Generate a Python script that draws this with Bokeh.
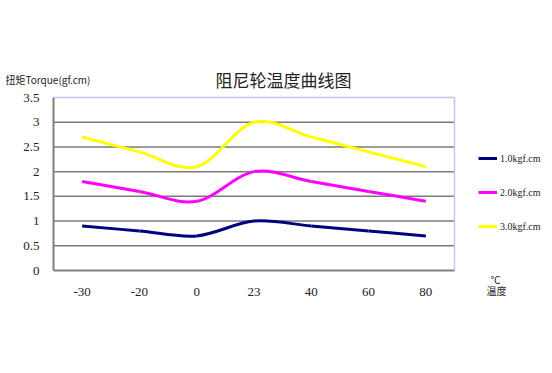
from bokeh.plotting import figure
from bokeh.models import Range1d, FixedTicker, Label, Legend, LegendItem
from bokeh.embed import file_html
from bokeh.resources import INLINE

categories = ["-30", "-20", "0", "23", "40", "60", "80"]
s1 = [0.9, 0.8, 0.7, 1.0, 0.9, 0.8, 0.7]
s2 = [1.8, 1.6, 1.4, 2.0, 1.8, 1.6, 1.4]
s3 = [2.7, 2.4, 2.1, 3.0, 2.7, 2.4, 2.1]
names = ["1.0kgf.cm", "2.0kgf.cm", "3.0kgf.cm"]
colors = ["#000080", "#FF00FF", "#FFFF00"]
y_ticks = [0, 0.5, 1, 1.5, 2, 2.5, 3, 3.5]
title_text = "阻尼轮温度曲线图"
y_title = "扭矩Torque(gf.cm)"
x_title = ["℃", "温度"]

W, H = 552, 373
# plot area in pixels (left, right, top, bottom)
L, R, T, B = 53, 454, 97, 270
n = len(categories)
ymax = y_ticks[-1]
kx = (R - L) / n
ky = (B - T) / ymax

p = figure(width=W, height=H, output_backend="svg", toolbar_location=None,
           x_range=Range1d(-L / kx, (W - L) / kx),
           y_range=Range1d(-(H - B) / ky, ymax + T / ky),
           min_border=0)
p.background_fill_color = "white"
p.border_fill_color = "white"
p.outline_line_color = None
p.xgrid.grid_line_color = None
p.ygrid.grid_line_color = None

xs = [i + 0.5 for i in range(n)]
p.xaxis.ticker = FixedTicker(ticks=xs)
p.xaxis.major_label_overrides = {x: c for x, c in zip(xs, categories)}
p.yaxis.ticker = FixedTicker(ticks=y_ticks)
p.yaxis.major_label_overrides = {t: ("%g" % t) for t in y_ticks}
p.xaxis.fixed_location = 0
p.yaxis.fixed_location = 0
p.xaxis.bounds = (0, n)
p.yaxis.bounds = (0, ymax)
for ax in (p.xaxis, p.yaxis):
    ax.major_tick_line_color = None
    ax.minor_tick_line_color = None
    ax.axis_line_color = "#808080"
    ax.axis_line_width = 2
    ax.major_label_text_font = "Liberation Serif"
    ax.major_label_text_font_size = "13px"
    ax.major_label_text_color = "#222222"
p.xaxis.major_label_standoff = 11
p.yaxis.major_label_standoff = 8

# horizontal grid lines limited to the plot area, plus the light top / right border
grid_y = y_ticks[1:-1]
p.segment(x0=[0] * len(grid_y), x1=[n] * len(grid_y), y0=grid_y, y1=grid_y,
          line_color="#7a7a7a", line_width=1.5)
p.segment(x0=[0, n], x1=[n, n], y0=[ymax, 0], y1=[ymax, ymax],
          line_color="#c4c4f4", line_width=1.5)


def bez(ys):
    m = len(ys)
    P = list(zip(xs, ys))
    d = {k: [] for k in ("x0", "y0", "x1", "y1", "cx0", "cy0", "cx1", "cy1")}
    for i in range(m - 1):
        pm = P[i - 1] if i > 0 else P[i]
        pa = P[i]
        pb = P[i + 1]
        pp = P[i + 2] if i + 2 < m else P[i + 1]
        d["x0"].append(pa[0]); d["y0"].append(pa[1])
        d["x1"].append(pb[0]); d["y1"].append(pb[1])
        d["cx0"].append(pa[0] + (pb[0] - pm[0]) / 6); d["cy0"].append(pa[1] + (pb[1] - pm[1]) / 6)
        d["cx1"].append(pb[0] - (pp[0] - pa[0]) / 6); d["cy1"].append(pb[1] - (pp[1] - pa[1]) / 6)
    return d


items = []
for ys, nm, col in zip([s1, s2, s3], names, colors):
    r = p.bezier(source=bez(ys), x0="x0", y0="y0", x1="x1", y1="y1",
                 cx0="cx0", cy0="cy0", cx1="cx1", cy1="cy1",
                 line_color=col, line_width=3)
    items.append(LegendItem(label=nm, renderers=[r]))

legend = Legend(items=items, location=(478, H - 236), orientation="vertical",
                glyph_width=19, glyph_height=20, spacing=14, label_standoff=3,
                padding=0, margin=0, border_line_color=None, background_fill_alpha=0,
                label_text_font="Liberation Serif", label_text_font_size="10px",
                label_text_color="#222222")
p.add_layout(legend)


def label(x, y, text, size, align="left"):
    p.add_layout(Label(x=x, y=H - y, x_units="screen", y_units="screen", text=text,
                       text_align=align, text_baseline="middle",
                       text_font="Noto Sans CJK SC", text_font_size=size,
                       text_color="#222222"))


label(283, 79, title_text, "17px", "center")
label(5, 79, y_title, "10px")
label(495, 279, x_title[0], "10px", "center")
label(496, 290, x_title[1], "10px", "center")

open("out.html", "w").write(file_html(p, INLINE))
